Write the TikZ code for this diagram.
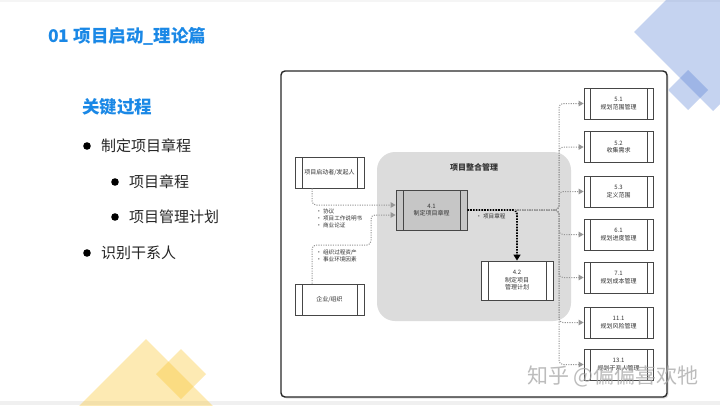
\documentclass[tikz,border=0pt]{standalone}
\usepackage{fontspec}
\setmainfont{Noto Sans CJK SC}
\usetikzlibrary{arrows.meta}
\definecolor{ttl}{RGB}{26,136,230}
\definecolor{bodytxt}{RGB}{38,38,38}
\definecolor{boxc}{RGB}{70,70,70}
\definecolor{dtxt}{RGB}{50,50,50}
\definecolor{regionc}{RGB}{220,220,220}
\definecolor{darkfill}{RGB}{198,198,198}
\definecolor{glinec}{RGB}{150,150,150}
\definecolor{blued}{RGB}{81,122,210}
\definecolor{yelld}{RGB}{250,195,40}
\definecolor{framec}{RGB}{40,40,40}
\tikzset{
  proc/.style={draw=boxc, line width=0.8pt, fill=white, minimum width=69pt,
    minimum height=31pt, inner sep=0pt, align=center, text=dtxt,
    font=\fontsize{6}{7.5}\selectfont,
    path picture={
      \draw[boxc, line width=0.7pt] ([xshift=#1]path picture bounding box.north west) -- ([xshift=#1]path picture bounding box.south west);
      \draw[boxc, line width=0.7pt] ([xshift=-#1]path picture bounding box.north east) -- ([xshift=-#1]path picture bounding box.south east);}},
  proc/.default=6.5pt,
  gline/.style={draw=glinec, line width=1pt, dash pattern=on 1.1pt off 1.3pt, rounded corners=4pt,
    -{Triangle[width=5.5pt,length=5pt,fill=glinec]}},
  glineplain/.style={draw=glinec, line width=1pt, dash pattern=on 1.1pt off 1.3pt},
  bline/.style={draw=black, line width=1.8pt, dash pattern=on 1.6pt off 1.2pt, rounded corners=4pt,
    -{Triangle[width=7pt,length=6pt,fill=black]}},
  lbl/.style={align=left, anchor=north west, inner sep=0pt, text=dtxt, font=\fontsize{5.6}{7}\selectfont},
  bul/.style={anchor=west, inner sep=0pt, text=bodytxt, font=\fontsize{15}{18}\selectfont},
}
\begin{document}
\begin{tikzpicture}[x=1pt,y=-1pt]
\useasboundingbox (0,0) rectangle (720,405);
\fill[white] (0,0) rectangle (720,405);
% slide edges
\fill[black!6] (0,401) rectangle (720,405);
\fill[black!4] (0,0) rectangle (720,2);
% decorations
\begin{scope}
\clip (0,0) rectangle (720,405);
\fill[blued, opacity=0.33] (634,32) -- (713,-47) -- (792,32) -- (713,111) -- cycle;
\fill[blued, opacity=0.33] (668,90) -- (688,70) -- (708,90) -- (688,110) -- cycle;
\fill[yelld, opacity=0.35] (146,339) -- (215,408) -- (77,408) -- cycle;
\fill[yelld, opacity=0.35] (156,374) -- (181,349) -- (206,374) -- (181,399) -- cycle;
\end{scope}
% title
\node[anchor=west, inner sep=0pt, text=ttl, font=\fontsize{17.5}{20}\selectfont\bfseries] (title) at (48,36) {01 项目启动\_理论篇};
\node[anchor=west, inner sep=0pt, text=ttl, font=\fontsize{17.5}{20}\selectfont\bfseries] (keyp) at (82,107) {关键过程};
\fill[black] (87,146) circle (3.8);
\node[bul] (t1) at (101,146) {制定项目章程};
\fill[black] (115,182) circle (3.8);
\node[bul] (t2) at (129,182) {项目章程};
\fill[black] (115,217) circle (3.8);
\node[bul] (t3) at (129,217) {项目管理计划};
\fill[black] (87,253) circle (3.8);
\node[bul] (t4) at (101,253) {识别干系人};
% frame
\fill[black!12, rounded corners=4pt] (282.5,72.5) rectangle (668.5,398.5);
\draw[framec, line width=1.4pt, fill=white, rounded corners=4pt] (281,71) rectangle (667,397);
% integration region
\fill[regionc, rounded corners=18pt] (377,152) rectangle (571,321);
\node[text=dtxt, font=\fontsize{8}{9}\selectfont\bfseries] (regl) at (474,167) {项目整合管理};
% process boxes
\node[proc=7pt, fill=darkfill, minimum width=71pt, minimum height=40pt] (n41) at (431.5,210) {4.1\\制定项目章程};
\node[proc=7pt, minimum width=72pt, minimum height=39pt] (n42) at (517,280.5) {4.2\\制定项目\\管理计划};
\node[proc=7pt] (spon) at (329.5,172.5) {项目启动者/发起人};
\node[proc=7pt] (ent) at (329.5,299.5) {企业/组织};
\node[proc=6pt] (b51) at (618.5,103.5) {5.1\\规划范围管理};
\node[proc=6pt] (b52) at (618.5,147) {5.2\\收集需求};
\node[proc=6pt] (b53) at (618.5,191.5) {5.3\\定义范围};
\node[proc=6pt] (b61) at (618.5,234.5) {6.1\\规划进度管理};
\node[proc=6pt] (b71) at (618.5,277.5) {7.1\\规划成本管理};
\node[proc=6pt] (b111) at (618.5,322.5) {11.1\\规划风险管理};
\node[proc=6pt] (b131) at (618.5,364.5) {13.1\\规划干系人管理};
% inputs to 4.1
\coordinate (e1) at (371,245);
\draw[gline] ([xshift=-17.5pt]spon.south) |- ([yshift=5pt]n41.west);
\draw[gline] ([xshift=-17.5pt]ent.north) |- (e1) |- ([yshift=-5pt]n41.west);
\node[lbl] (l1) at (316,208.5) {• 协议\\• 项目工作说明书\\• 商业论证};
\node[lbl] (l2) at (316,249.5) {• 组织过程资产\\• 事业环境因素};
% charter to 4.2
\draw[bline] (n41.east) -| (n42.north);
\node[lbl, anchor=west] (l3) at (476,216.5) {• 项目章程};
% distribution bus
\coordinate (k) at (515,210);
\coordinate (bus) at (559,210);
\foreach \b in {b51,b52,b53,b61,b71,b111,b131}{
  \draw[gline] (k) -- (bus) |- (\b.west);
}
% watermark
\node[text=black!35, opacity=0.75, font=\fontsize{21}{24}\selectfont] (wm) at (613,376) {知乎 @偏偏喜欢牠};
\end{tikzpicture}
\end{document}
